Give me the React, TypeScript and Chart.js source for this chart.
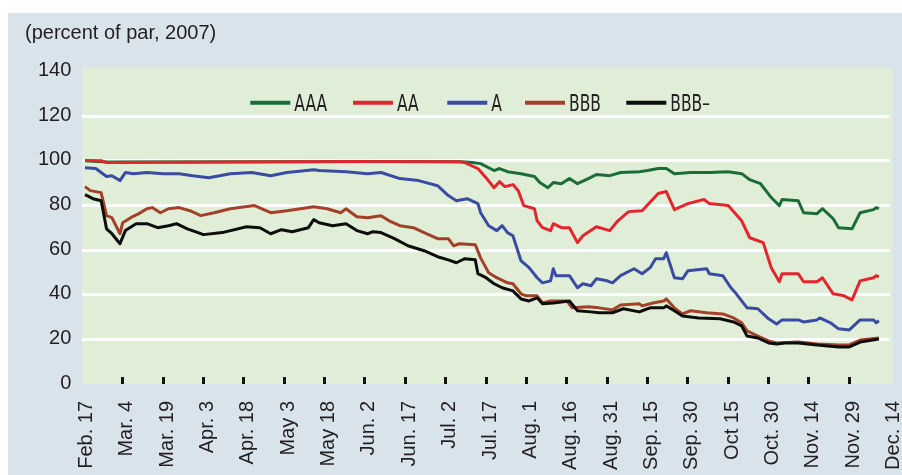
import React, { useEffect, useRef } from "react";
import { Chart, registerables } from "chart.js";

Chart.register(...registerables);

// ---------- data ----------
const xTickLabels = [
  "Feb. 17", "Mar. 4", "Mar. 19", "Apr. 3", "Apr. 18", "May 3", "May 18",
  "Jun. 2", "Jun. 17", "Jul. 2", "Jul. 17", "Aug. 1", "Aug. 16", "Aug. 31",
  "Sep. 15", "Sep. 30", "Oct 15", "Oct. 30", "Nov. 14", "Nov. 29", "Dec. 14",
];
const yTicks = [0, 20, 40, 60, 80, 100, 120, 140];
const seriesNames = ["AAA", "AA", "A", "BBB", "BBB–"];
const titleText = "(percent of par, 2007)";

// x = days since Feb. 17, 2007
const aaaDays = [1, 9, 60, 120, 141, 145, 148, 153, 155, 158, 163, 168, 170, 173, 175, 178, 181, 184, 188, 191, 196, 200, 207, 210, 214, 217, 220, 226, 233, 240, 245, 248, 252, 256, 259, 260, 266, 268, 273, 275, 277, 279, 281, 286, 289, 294, 295, 296];
const aaaValues = [100, 99.4, 99.5, 99.6, 99.5, 99.2, 98.7, 95.6, 96.5, 95.1, 94.2, 92.9, 90.2, 87.9, 90.2, 89.7, 92.0, 89.7, 92.0, 93.8, 93.3, 94.7, 95.1, 95.6, 96.5, 96.5, 94.2, 94.7, 94.7, 95.1, 94.2, 91.5, 89.7, 83.5, 79.9, 82.6, 82.1, 76.7, 76.3, 78.5, 76.3, 74.0, 70.0, 69.5, 76.7, 78.1, 79.0, 78.5];

const aaDays = [1, 7, 9, 40, 100, 140, 142, 147, 150, 153, 155, 157, 160, 162, 164, 168, 169, 171, 174, 175, 178, 181, 184, 186, 191, 196, 199, 203, 208, 214, 217, 220, 225, 231, 233, 240, 245, 248, 253, 256, 259, 260, 266, 268, 273, 275, 279, 283, 286, 289, 294, 295, 296];
const aaValues = [100.1, 100, 99.2, 99.3, 99.6, 99.5, 99.2, 96.5, 92.4, 87.9, 90.6, 88.4, 89.3, 86.6, 79.9, 78.5, 73.1, 70.0, 68.7, 71.8, 70.0, 70.0, 63.3, 66.4, 70.4, 68.7, 73.1, 77.2, 77.6, 85.3, 86.2, 78.1, 80.8, 82.6, 80.8, 79.9, 73.1, 65.5, 63.3, 52.1, 45.8, 49.4, 49.4, 45.8, 45.8, 47.6, 40.4, 39.5, 37.7, 46.2, 47.6, 48.5, 48.0];

const aDays = [1, 5, 9, 11, 14, 16, 19, 24, 30, 36, 41, 47, 55, 63, 70, 76, 86, 88, 98, 106, 111, 118, 125, 132, 136, 139, 143, 147, 148, 151, 154, 156, 158, 160, 163, 166, 169, 171, 174, 175, 176, 181, 184, 186, 189, 191, 195, 197, 200, 205, 208, 211, 213, 216, 217, 220, 223, 225, 232, 233, 238, 241, 243, 247, 251, 255, 258, 260, 266, 268, 273, 274, 278, 281, 285, 289, 294, 295, 296];
const aValues = [96.9, 96.5, 92.9, 93.3, 91.1, 94.7, 94.2, 94.7, 94.2, 94.2, 93.3, 92.4, 94.2, 94.7, 93.3, 94.7, 96.0, 95.6, 95.1, 94.2, 94.7, 92.0, 91.1, 88.8, 84.4, 82.1, 83.0, 80.8, 76.7, 70.9, 68.7, 70.9, 67.8, 66.4, 55.2, 52.1, 47.6, 45.3, 46.2, 51.6, 48.5, 48.5, 43.1, 44.9, 44.0, 47.1, 46.2, 45.3, 48.5, 51.6, 49.4, 52.1, 56.1, 56.1, 58.8, 47.6, 47.1, 50.7, 51.6, 49.4, 48.5, 43.1, 40.4, 34.1, 33.7, 29.2, 26.9, 28.7, 28.7, 27.8, 28.7, 29.6, 27.4, 24.7, 24.2, 28.7, 28.7, 27.4, 28.3];

const bbbDays = [1, 3, 7, 9, 11, 14, 15, 18, 21, 24, 26, 29, 32, 36, 40, 44, 49, 55, 64, 70, 76, 86, 91, 96, 98, 102, 106, 111, 114, 118, 123, 127, 132, 136, 138, 140, 146, 148, 151, 154, 158, 160, 163, 165, 169, 171, 174, 180, 182, 188, 192, 197, 200, 207, 208, 212, 216, 217, 220, 223, 226, 232, 238, 242, 245, 247, 251, 255, 258, 266, 273, 281, 285, 289, 296];
const bbbValues = [88.4, 86.6, 85.7, 75.4, 74.5, 67.3, 72.2, 74.5, 76.3, 78.5, 79.0, 76.7, 78.5, 79.0, 77.6, 75.4, 76.7, 78.5, 79.9, 76.7, 77.6, 79.4, 78.5, 76.7, 78.5, 74.9, 74.5, 75.4, 73.1, 70.9, 70.0, 67.8, 65.1, 65.1, 61.9, 62.8, 62.4, 56.5, 49.8, 47.6, 45.3, 44.9, 40.4, 39.5, 39.5, 36.3, 37.2, 37.2, 34.1, 34.6, 34.1, 33.2, 35.4, 35.9, 35.0, 36.3, 37.2, 38.1, 34.1, 31.4, 32.8, 31.9, 31.4, 29.6, 27.4, 23.8, 21.5, 19.3, 18.4, 18.8, 17.9, 17.5, 17.5, 19.7, 20.6];

const bbbMinusDays = [1, 4, 7, 9, 11, 14, 16, 20, 24, 28, 32, 35, 39, 43, 45, 52, 61, 66, 70, 74, 78, 84, 86, 88, 93, 98, 102, 106, 108, 111, 116, 121, 127, 132, 136, 139, 142, 146, 147, 150, 153, 156, 160, 163, 166, 169, 171, 175, 181, 184, 189, 192, 197, 201, 207, 208, 211, 216, 217, 220, 223, 229, 237, 242, 245, 247, 251, 255, 258, 261, 266, 273, 281, 285, 289, 296];
const bbbMinusValues = [84.8, 83.0, 82.1, 69.5, 67.3, 62.8, 68.7, 71.8, 71.8, 70.0, 70.9, 71.8, 69.5, 67.8, 66.9, 67.8, 70.4, 70.0, 67.3, 69.1, 68.2, 70.0, 73.6, 72.2, 70.9, 71.8, 68.7, 67.3, 68.2, 67.8, 65.1, 61.9, 59.7, 57.0, 55.6, 54.3, 56.1, 55.6, 49.4, 47.6, 44.9, 43.1, 41.7, 38.1, 37.2, 38.6, 35.9, 36.3, 37.2, 32.8, 32.3, 31.9, 31.9, 33.7, 32.3, 32.8, 34.1, 34.1, 35.0, 32.8, 30.5, 29.6, 29.2, 27.8, 26.0, 21.5, 20.6, 18.4, 17.9, 18.4, 18.4, 17.5, 16.6, 16.6, 18.8, 20.2];

const seriesDays = [aaaDays, aaDays, aDays, bbbDays, bbbMinusDays];
const seriesValues = [aaaValues, aaValues, aValues, bbbValues, bbbMinusValues];

// ---------- styles ----------
const COLORS = ["#1c6c3a", "#e3262d", "#3a4ba2", "#a3402a", "#0d0d0d"];
const OUTER_BG = "#d9e3eb";
const PLOT_BG = "#e0eed8";
const TEXT = "#231f20";
const FONT = "'Liberation Sans', Arial, Helvetica, sans-serif";
const NARROW = "'Liberation Sans Narrow', 'DejaVu Sans Condensed', 'Liberation Sans', sans-serif";

const W = 894;
const H = 462;

const bgPlugin = {
  id: "plotBg",
  beforeDraw(chart: any) {
    const { ctx, chartArea } = chart;
    ctx.save();
    ctx.fillStyle = PLOT_BG;
    ctx.fillRect(chartArea.left, chartArea.top - 4, chartArea.right - chartArea.left + 3, chartArea.bottom - chartArea.top + 4);
    ctx.restore();
  },
};

const titlePlugin = {
  id: "topTitle",
  afterDraw(chart: any) {
    const { ctx } = chart;
    ctx.save();
    ctx.fillStyle = TEXT;
    ctx.font = `20px ${FONT}`;
    ctx.textAlign = "left";
    ctx.textBaseline = "alphabetic";
    ctx.fillText(titleText, 17, 25.5);
    ctx.restore();
  },
};

const legendOffsets = [168, 270.7, 365, 442.7, 544];

const legendPlugin = {
  id: "inlineLegend",
  afterDatasetsDraw(chart: any) {
    const { ctx, chartArea } = chart;
    ctx.save();
    const yLine = 89.8;
    seriesNames.forEach((name, i) => {
      const x0 = chartArea.left + legendOffsets[i];
      ctx.strokeStyle = COLORS[i];
      ctx.lineWidth = 4;
      ctx.lineCap = "butt";
      ctx.beginPath();
      ctx.moveTo(x0, yLine);
      ctx.lineTo(x0 + 40, yLine);
      ctx.stroke();
      ctx.save();
      ctx.translate(x0 + 44, 98.3);
      ctx.scale(0.75, 1);
      ctx.fillStyle = TEXT;
      ctx.font = `23px ${NARROW}`;
      ctx.textAlign = "left";
      ctx.textBaseline = "alphabetic";
      ctx.fillText(name, 0, 0);
      ctx.restore();
    });
    ctx.restore();
  },
};

export default function App() {
  const ref = useRef<HTMLCanvasElement>(null);

  useEffect(() => {
    const canvas = ref.current;
    if (!canvas) return;
    const datasets = seriesNames.map((name, i) => ({
      label: name,
      data: seriesDays[i].map((d, j) => ({ x: d, y: seriesValues[i][j] })),
      borderColor: COLORS[i],
      backgroundColor: COLORS[i],
      borderWidth: 3,
      pointRadius: 0,
      tension: 0,
      fill: false,
      borderJoinStyle: "round" as const,
      order: seriesNames.length - i,
    }));

    const chart = new Chart(canvas, {
      type: "line",
      data: { datasets },
      options: {
        animation: false,
        responsive: false,
        maintainAspectRatio: false,
        devicePixelRatio: 1,
        layout: { padding: { top: 58.4, right: 12.3, left: 0, bottom: 0 } },
        plugins: {
          legend: { display: false },
          tooltip: { enabled: false },
          title: { display: false },
        },
        scales: {
          x: {
            type: "linear",
            min: 0,
            max: 300,
            border: { display: false },
            grid: {
              display: true,
              drawOnChartArea: false,
              drawTicks: true,
              tickLength: -7,
              tickWidth: 3,
              tickColor: (ctx: any) =>
                ctx.index === 0 || ctx.index === xTickLabels.length - 1 ? "rgba(0,0,0,0)" : "#111",
            },
            ticks: {
              stepSize: 15,
              autoSkip: false,
              maxTicksLimit: 30,
              minRotation: 90,
              maxRotation: 90,
              padding: 24,
              labelOffset: 4,
              color: TEXT,
              font: { family: FONT, size: 20 },
              callback: (v: any) => xTickLabels[Math.round(Number(v) / 15)] ?? "",
            },
            afterFit: (scale: any) => {
              scale.height = H - 371;
              scale.paddingLeft = 0;
              scale.paddingRight = 0;
            },
          },
          y: {
            type: "linear",
            min: yTicks[0],
            max: yTicks[yTicks.length - 1],
            border: { display: false },
            grid: {
              drawTicks: false,
              lineWidth: 3,
              color: (ctx: any) =>
                ctx.tick && (ctx.tick.value === yTicks[0] || ctx.tick.value === yTicks[yTicks.length - 1])
                  ? "rgba(0,0,0,0)"
                  : "#ffffff",
            },
            ticks: {
              stepSize: 20,
              padding: 11,
              labelOffset: -1,
              color: TEXT,
              font: { family: FONT, size: 20 },
            },
            afterFit: (scale: any) => {
              scale.width = 74.3;
              scale.paddingTop = 0;
              scale.paddingBottom = 0;
            },
          },
        },
      },
      plugins: [bgPlugin, titlePlugin, legendPlugin],
    } as any);

    return () => chart.destroy();
  }, []);

  return (
    <div
      style={{
        position: "fixed",
        left: 8,
        top: 13,
        width: W,
        height: H,
        background: OUTER_BG,
      }}
    >
      <canvas ref={ref} width={W} height={H} style={{ display: "block", width: W, height: H }} />
    </div>
  );
}
